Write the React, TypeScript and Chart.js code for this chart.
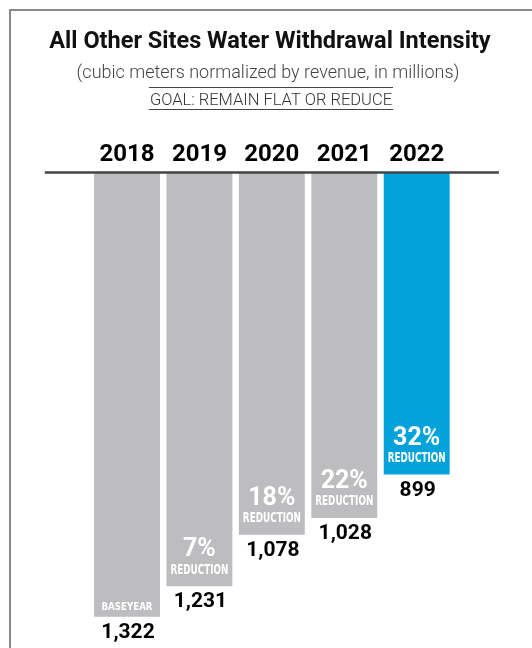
import React, { useEffect, useRef } from "react";
import { Chart, registerables } from "chart.js";

Chart.register(...registerables);

const categories = ["2018", "2019", "2020", "2021", "2022"];
const values = [1322, 1231, 1078, 1028, 899];
const pctLabels = ["", "7%", "18%", "22%", "32%"];
const baseLabel = "BASEYEAR";
const pctCaption = "REDUCTION";
const barColors = ["#bdbdbf", "#bdbdbf", "#bdbdbf", "#bdbdbf", "#02a3da"];

const titleText = "All Other Sites Water Withdrawal Intensity";
const subtitleText = "(cubic meters normalized by revenue, in millions)";
const goalText = "GOAL: REMAIN FLAT OR REDUCE";

const W = 532;
const H = 648;
const NARROW = "'Liberation Sans Narrow', 'DejaVu Sans Condensed', 'Roboto', sans-serif";

function fitText(ctx: any, text: string, x: number, y: number, font: string, targetW: number, sy: number) {
  ctx.save();
  ctx.font = font;
  const w = ctx.measureText(text).width;
  ctx.translate(x, y);
  ctx.scale(targetW / w, sy);
  ctx.fillText(text, 0, 0);
  ctx.restore();
}

const decorPlugin = {
  id: "decor",
  beforeDraw(chart: any) {
    const ctx = chart.ctx;
    ctx.save();
    ctx.fillStyle = "#fff";
    ctx.fillRect(0, 0, W, H);
    // frame
    ctx.strokeStyle = "#8a8a8a";
    ctx.lineWidth = 2;
    ctx.beginPath();
    ctx.moveTo(10, H);
    ctx.lineTo(10, 10);
    ctx.lineTo(W, 10);
    ctx.stroke();
    // titles
    ctx.textAlign = "center";
    ctx.textBaseline = "alphabetic";
    ctx.fillStyle = "#111";
    ctx.font = "bold 23.5px Roboto";
    ctx.fillText(titleText, 270, 48);
    ctx.fillStyle = "#444";
    ctx.font = "300 18px Roboto";
    ctx.fillText(subtitleText, 268, 78);
    ctx.fillStyle = "#333";
    ctx.font = "300 16.5px Roboto";
    ctx.fillText(goalText, 271, 105);
    const gw = ctx.measureText(goalText).width;
    ctx.strokeStyle = "#444";
    ctx.lineWidth = 1;
    ctx.beginPath();
    ctx.moveTo(271 - gw / 2 - 1, 87.5);
    ctx.lineTo(271 + gw / 2 + 1, 87.5);
    ctx.moveTo(271 - gw / 2 - 1, 109.5);
    ctx.lineTo(271 + gw / 2 + 1, 109.5);
    ctx.stroke();
    ctx.restore();
  },
  afterDatasetsDraw(chart: any) {
    const ctx = chart.ctx;
    const area = chart.chartArea;
    const meta = chart.getDatasetMeta(0);
    ctx.save();
    // axis line
    ctx.strokeStyle = "#444";
    ctx.lineWidth = 2.5;
    ctx.beginPath();
    ctx.moveTo(area.left - 46, area.top);
    ctx.lineTo(area.right + 46, area.top);
    ctx.stroke();

    ctx.textAlign = "center";
    ctx.textBaseline = "middle";
    meta.data.forEach((bar: any, i: number) => {
      const x = bar.x;
      const bottom = bar.y;
      // value label
      ctx.fillStyle = "#000";
      ctx.font = "bold 21px Roboto";
      ctx.fillText(values[i].toLocaleString("en-US"), x + 1, bottom + 16);
      ctx.fillStyle = "#fff";
      if (i === 0) {
        fitText(ctx, baseLabel, x, bottom - 10, "bold 11px " + NARROW, 51, 1.0);
      } else {
        ctx.font = "bold 25px Roboto";
        ctx.fillText(pctLabels[i], x, bottom - 36);
        fitText(ctx, pctCaption, x, bottom - 16, "bold 13px " + NARROW, 58, 1.05);
      }
    });
    ctx.restore();
  },
};

export default function App() {
  const ref = useRef<HTMLCanvasElement | null>(null);
  useEffect(() => {
    if (!ref.current) return;
    const chart = new Chart(ref.current, {
      type: "bar",
      data: {
        labels: categories,
        datasets: [
          {
            data: values,
            backgroundColor: barColors,
            borderWidth: 0,
            barPercentage: 0.91,
            categoryPercentage: 1,
          },
        ],
      },
      options: {
        animation: false,
        responsive: false,
        devicePixelRatio: 1,
        layout: { padding: { top: 137.6, left: 90.8, right: 79.1, bottom: 0 } },
        plugins: { legend: { display: false }, tooltip: { enabled: false } },
        scales: {
          x: {
            position: "top",
            grid: { display: false, drawTicks: false },
            border: { display: false },
            ticks: {
              color: "#000",
              padding: 3,
              font: { family: "Roboto", weight: "bold", size: 24 },
            },
          },
          y: { display: false, reverse: true, min: 0, max: 1415 },
        },
      },
      plugins: [decorPlugin],
    } as any);
    return () => chart.destroy();
  }, []);
  return (
    <div style={{ position: "fixed", left: 0, top: 0, width: W, height: H, background: "#fff" }}>
      <canvas ref={ref} width={W} height={H} style={{ display: "block", width: W, height: H }} />
    </div>
  );
}
